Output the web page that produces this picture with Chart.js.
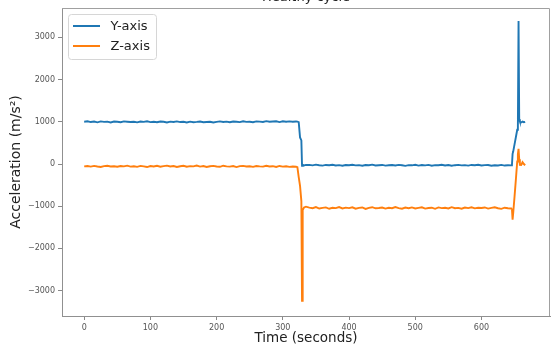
<!DOCTYPE html>
<html>
<head>
<meta charset="utf-8">
<script src="https://cdn.jsdelivr.net/npm/chart.js@4.4.1/dist/chart.umd.min.js"></script>
<style>
  html, body { margin: 0; padding: 0; background: #fff; overflow: hidden; }
  #wrap { position: absolute; left: 0; top: -14px; width: 551px; height: 361px; }
</style>
</head>
<body>
<div id="wrap"><canvas id="chart"></canvas></div>
<script>
const timeSec = [
  0, 5, 10, 15, 20, 25, 30, 35, 40, 45, 50, 55, 60,
  65, 70, 75, 80, 85, 90, 95, 100, 105, 110, 115, 120, 125,
  130, 135, 140, 145, 150, 155, 160, 165, 170, 175, 180, 185, 190,
  195, 200, 205, 210, 215, 220, 225, 230, 235, 240, 245, 250, 255,
  260, 265, 270, 275, 280, 285, 290, 295, 300, 305, 310, 315, 320,
  322, 324, 326, 328, 329, 330, 332, 335,
  340, 345, 350, 355, 360, 365, 370, 375, 380, 385, 390, 395, 400,
  405, 410, 415, 420, 425, 430, 435, 440, 445, 450, 455, 460, 465,
  470, 475, 480, 485, 490, 495, 500, 505, 510, 515, 520, 525, 530,
  535, 540, 545, 550, 555, 560, 565, 570, 575, 580, 585, 590, 595,
  600, 605, 610, 615, 620, 625, 630, 635, 640, 645,
  646, 647, 648, 650, 652, 654, 655, 656, 657, 658, 660, 662, 664, 666
];

const accelY = [
  1000, 1012, 994, 1006, 988, 1010, 998, 1004, 985, 1008, 1001, 990, 1011,
  1003, 995, 1002, 987, 1006, 999, 1013, 993, 1001, 989, 1007, 1000, 984,
  1004, 997, 1010, 994, 1000, 985, 1003, 991, 998, 1008, 989, 996, 1002,
  984, 999, 1011, 995, 1005, 990, 1008, 1000, 993, 1014, 998, 1002, 991,
  1009, 1005, 997, 1016, 1001, 1006, 1012, 994, 1014, 1003, 1010, 1000, 1007,
  1004, 992, 630, 560, -40, -15, -35, -22,
  -20, -32, -15, -28, -38, -22, -30, -18, -35, -26, -40, -24, -31,
  -19, -33, -27, -42, -25, -30, -16, -36, -28, -22, -39, -30, -24,
  -34, -20, -29, -44, -26, -31, -18, -37, -25, -33, -21, -40, -27,
  -30, -17, -35, -24, -41, -28, -20, -33, -26, -38, -22, -31, -19,
  -36, -27, -23, -40, -29, -34, -21, -37, -28, -32,
  -28, 240, 300, 470, 640, 810, 900, 3390, 1060, 1010, 985, 1005, 990, 1000
];

const accelZ = [
  -55, -48, -62, -44, -58, -70, -50, -41, -60, -53, -66, -47, -57,
  -39, -61, -52, -68, -45, -56, -72, -49, -59, -43, -64, -51, -38,
  -60, -47, -69, -54, -41, -63, -50, -57, -36, -62, -48, -71, -53,
  -44, -58, -66, -40, -55, -62, -49, -73, -51, -45, -60, -54, -67,
  -48, -57, -63, -42, -59, -52, -70, -46, -61, -55, -68, -58, -65,
  -75, -310, -520, -880, -3240, -1090, -1030, -1012,
  -1035, -1048, -1022, -1055, -1040, -1028, -1061, -1037, -1045, -1019, -1052, -1033, -1046,
  -1026, -1058, -1041, -1030, -1064, -1038, -1024, -1050, -1043, -1031, -1057, -1036, -1049,
  -1021, -1044, -1060, -1033, -1047, -1028, -1053, -1039, -1025, -1056, -1042, -1035, -1062,
  -1029, -1046, -1038, -1054, -1023, -1048, -1040, -1059, -1032, -1045, -1027, -1051, -1037,
  -1044, -1030, -1057, -1041, -1026, -1049, -1063, -1036, -1047, -1055,
  -1060, -1320, -1150, -760, -360, 60, 230, 360, 110, -20, -25, 45, 0, -30
];

const xTicks = [0, 100, 200, 300, 400, 500, 600];
const yTicks = [-3000, -2000, -1000, 0, 1000, 2000, 3000];

const FONT = '"DejaVu Sans", sans-serif';

function pts(values) {
  return timeSec.map((t, i) => ({ x: t, y: values[i] }));
}

function fmt(v) {
  return v < 0 ? '\u2212' + Math.abs(v) : String(v);
}

// marco superior/derecho y leyenda con recuadro
const frameAndLegend = {
  id: 'frameAndLegend',
  afterDraw(chart) {
    const { ctx, chartArea: a } = chart;
    ctx.save();
    ctx.strokeStyle = '#a0a0a0';
    ctx.lineWidth = 1;
    ctx.beginPath();
    ctx.moveTo(a.left, a.top + 0.5);
    ctx.lineTo(a.right - 0.5, a.top + 0.5);
    ctx.lineTo(a.right - 0.5, a.bottom);
    ctx.stroke();

    const x0 = a.left + 6.5, y0 = a.top + 6.5, w = 88, h = 45;
    ctx.beginPath();
    ctx.roundRect(x0, y0, w, h, 3);
    ctx.fillStyle = 'rgba(255,255,255,0.85)';
    ctx.fill();
    ctx.strokeStyle = '#d6d6d6';
    ctx.stroke();

    ctx.font = '13px ' + FONT;
    ctx.textBaseline = 'middle';
    chart.data.datasets.forEach((ds, i) => {
      const cy = y0 + 11.5 + i * 20;
      ctx.beginPath();
      ctx.moveTo(x0 + 4.5, cy);
      ctx.lineTo(x0 + 31.5, cy);
      ctx.strokeStyle = ds.borderColor;
      ctx.lineWidth = 2;
      ctx.stroke();
      ctx.fillStyle = '#222';
      ctx.fillText(ds.label, x0 + 42, cy + 1);
    });
    ctx.restore();
  }
};

new Chart(document.getElementById('chart'), {
  type: 'line',
  data: {
    datasets: [{
      label: 'Y-axis',
      data: pts(accelY),
      borderColor: '#1f77b4',
      backgroundColor: '#1f77b4',
      borderWidth: 1.9
    }, {
      label: 'Z-axis',
      data: pts(accelZ),
      borderColor: '#ff7f0e',
      backgroundColor: '#ff7f0e',
      borderWidth: 1.9
    }]
  },
  options: {
    responsive: true,
    maintainAspectRatio: false,
    animation: false,
    layout: { padding: { left: 0, right: 1, top: 0, bottom: 0 } },
    elements: { point: { radius: 0 }, line: { tension: 0 } },
    plugins: {
      legend: { display: false },
      tooltip: { enabled: false },
      title: {
        display: true,
        text: 'Healthy cycle',
        fullSize: false,
        color: '#222',
        font: { family: FONT, size: 13, weight: 'normal' },
        padding: { top: 3.5, bottom: 2.9 }
      }
    },
    scales: {
      x: {
        type: 'linear',
        min: -33.5,
        max: 703.5,
        afterBuildTicks: s => { s.ticks = xTicks.map(v => ({ value: v })); },
        afterFit: s => { s.height = 31; },
        grid: { drawOnChartArea: false, tickLength: 4, color: '#888' },
        border: { color: '#909090' },
        ticks: { color: '#555', padding: 3, maxRotation: 0, font: { family: FONT, size: 8 }, callback: v => fmt(v) },
        title: { display: true, text: 'Time (seconds)', color: '#222', font: { family: FONT, size: 13.5 }, padding: { top: 0, bottom: 0 } }
      },
      y: {
        type: 'linear',
        min: -3602,
        max: 3697,
        afterBuildTicks: s => { s.ticks = yTicks.map(v => ({ value: v })); },
        afterFit: s => { s.width = 62; },
        grid: { drawOnChartArea: false, tickLength: 4, color: '#888' },
        border: { color: '#909090' },
        ticks: { color: '#555', padding: 3, font: { family: FONT, size: 8 }, callback: v => fmt(v) },
        title: { display: true, text: 'Acceleration (m/s²)', color: '#222', font: { family: FONT, size: 14 }, padding: { top: 7.5, bottom: 0 } }
      }
    }
  },
  plugins: [frameAndLegend]
});
</script>
</body>
</html>
